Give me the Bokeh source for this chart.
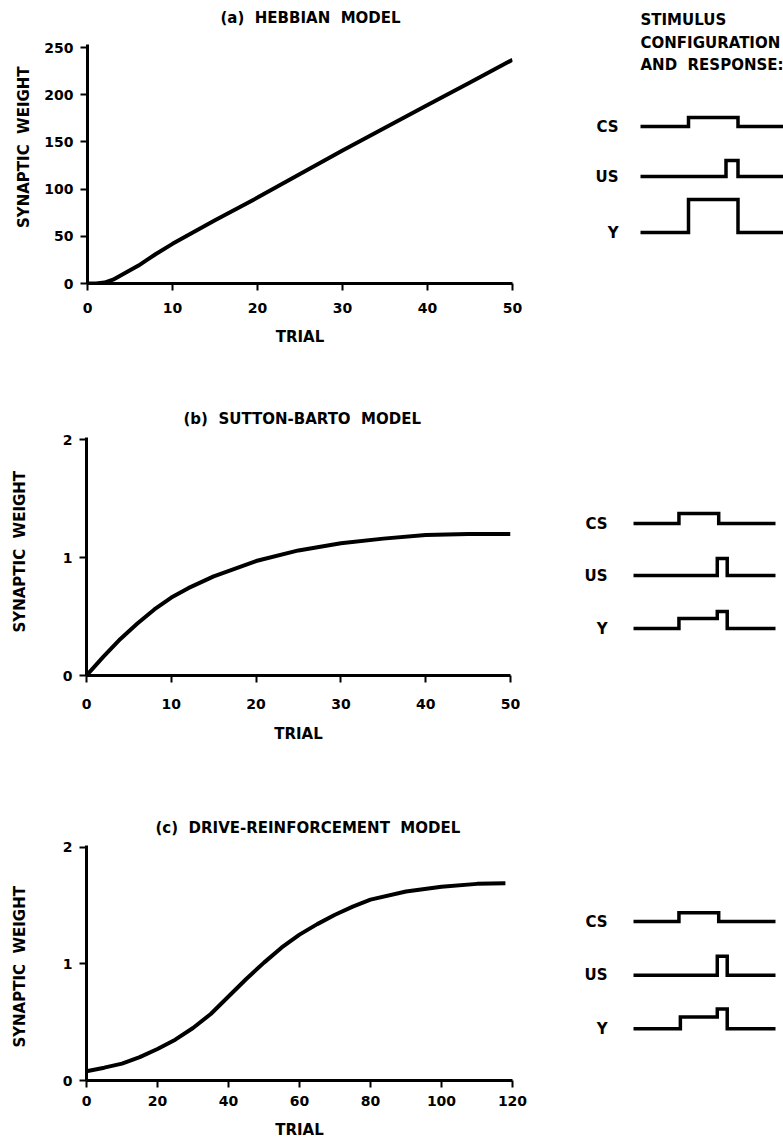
from bokeh.plotting import figure
from bokeh.layouts import column, row
from bokeh.models import Range1d, FixedTicker
from bokeh.core.properties import value
from bokeh.embed import file_html
from bokeh.resources import INLINE

FONT = "DejaVu Sans"
NB = "\u00a0"
SP = NB * 2  # wide word gap (kept in SVG)

# ---------------- data ----------------
# (a) Hebbian model
heb_trial = [0, 1, 2, 3, 4, 5, 6, 7, 8, 10, 15, 20, 25, 30, 35, 40, 45, 50]
heb_weight = [0, 0, 1, 4, 9, 14, 19, 25, 31, 42, 67, 91, 116, 141, 165, 189, 213, 237]

# (b) Sutton-Barto model
sb_trial = [0, 2, 4, 6, 8, 10, 12, 15, 20, 25, 30, 35, 40, 45, 50]
sb_weight = [0, 0.16, 0.31, 0.44, 0.56, 0.66, 0.74, 0.84, 0.97, 1.06, 1.12, 1.16, 1.19, 1.20, 1.20]

# (c) Drive-reinforcement model
dr_trial = [0, 5, 10, 15, 20, 25, 30, 35, 40, 45, 50, 55, 60, 65, 70, 75, 80, 90, 100, 110, 118]
dr_weight = [0.08, 0.11, 0.145, 0.20, 0.27, 0.35, 0.45, 0.57, 0.72, 0.87, 1.01, 1.14, 1.25,
             1.34, 1.42, 1.49, 1.55, 1.62, 1.66, 1.685, 1.69]

# tick values
ticks_x_ab = [0, 10, 20, 30, 40, 50]
ticks_x_c = [0, 20, 40, 60, 80, 100, 120]
ticks_y_a = [0, 50, 100, 150, 200, 250]
ticks_y_bc = [0, 1, 2]

titles = ["(a)" + SP + "HEBBIAN" + SP + "MODEL",
          "(b)" + SP + "SUTTON-BARTO" + SP + "MODEL",
          "(c)" + SP + "DRIVE-REINFORCEMENT" + SP + "MODEL"]
x_label = "TRIAL"
y_label = "SYNAPTIC" + SP + "WEIGHT"
stim_header = ["STIMULUS", "CONFIGURATION", "AND" + SP + "RESPONSE:"]
stim_names = ["CS", "US", "Y"]

# stimulus waveforms (time in arbitrary units 0-100, amplitude in arbitrary units)
stim_a_cs_t = [0, 32, 32, 65, 65, 100]
stim_a_cs_v = [0, 0, 0.9, 0.9, 0, 0]
stim_a_us_t = [0, 57, 57, 65, 65, 100]
stim_a_us_v = [0, 0, 1.6, 1.6, 0, 0]
stim_a_y_t = [0, 32, 32, 65, 65, 100]
stim_a_y_v = [0, 0, 3.3, 3.3, 0, 0]

stim_b_cs_t = [0, 32, 32, 60, 60, 100]
stim_b_cs_v = [0, 0, 1.0, 1.0, 0, 0]
stim_b_us_t = [0, 59, 59, 66, 66, 100]
stim_b_us_v = [0, 0, 1.7, 1.7, 0, 0]
stim_b_y_t = [0, 32, 32, 59, 59, 66, 66, 100]
stim_b_y_v = [0, 0, 1.0, 1.0, 1.7, 1.7, 0, 0]

stim_c_cs_t = [0, 32, 32, 60, 60, 100]
stim_c_cs_v = [0, 0, 0.9, 0.9, 0, 0]
stim_c_us_t = [0, 59, 59, 66, 66, 100]
stim_c_us_v = [0, 0, 1.9, 1.9, 0, 0]
stim_c_y_t = [0, 33, 33, 59, 59, 66, 66, 100]
stim_c_y_v = [0, 0, 1.2, 1.2, 2.0, 2.0, 0, 0]


# ---------------- helpers ----------------
def main_fig(h, left, frame_w, bottom, xr, ymax, yt, ppu, title, title_x_px, title_y_px,
             xt, xt_stand, xl_stand, yl_pad, yl_stand):
    """Frame spans from the top of the figure down to (h - bottom)."""
    frame_h = h - bottom
    y_end = frame_h / ppu
    p = figure(width=540, height=h, x_range=Range1d(*xr), y_range=Range1d(0, y_end),
               output_backend="svg", toolbar_location=None,
               min_border_left=left, min_border_right=540 - left - frame_w,
               min_border_top=0, min_border_bottom=bottom)
    p.xaxis.ticker = FixedTicker(ticks=xt)
    p.yaxis.ticker = FixedTicker(ticks=yt)
    p.yaxis.bounds = (0, ymax)
    p.xaxis.axis_label = x_label
    # trailing no-break spaces move the centred label down along the axis
    p.yaxis.axis_label = y_label + NB * yl_pad
    for ax in (p.xaxis[0], p.yaxis[0]):
        ax.axis_line_width = 3
        ax.axis_line_color = "black"
        ax.major_tick_line_width = 2
        ax.major_tick_line_color = "black"
        ax.major_tick_out = 7
        ax.major_tick_in = 0
        ax.minor_tick_line_color = None
        ax.major_label_text_font = FONT
        ax.major_label_text_font_size = "14px"
        ax.major_label_text_font_style = "bold"
        ax.major_label_text_color = "black"
        ax.major_label_standoff = 7
        ax.axis_label_text_font = FONT
        ax.axis_label_text_font_size = "15px"
        ax.axis_label_text_font_style = "bold"
        ax.axis_label_text_color = "black"
    p.xaxis[0].major_label_standoff = xt_stand
    p.xaxis[0].axis_label_standoff = xl_stand
    p.yaxis[0].axis_label_standoff = yl_stand
    p.xgrid.visible = False
    p.ygrid.visible = False
    p.outline_line_color = None
    # panel title as real text inside the (tall) frame
    xpu = frame_w / (xr[1] - xr[0])
    p.text(x=[xr[0] + (title_x_px - left) / xpu], y=[(frame_h - title_y_px) / ppu],
           text=[title], text_align="left", text_baseline="middle",
           text_font=value(FONT), text_font_size="15px", text_font_style="bold",
           text_color="black")
    return p


def stim_fig(h, bottom, x0, scale, traces, bases, label_dx, header=False):
    W = 243
    s = figure(width=W, height=h, x_range=Range1d(-x0 / scale, (W - x0) / scale),
               y_range=Range1d(-(h - bottom) / 10, 0), output_backend="svg",
               toolbar_location=None, min_border_left=0, min_border_right=0,
               min_border_top=0, min_border_bottom=bottom,
               x_axis_location=None, y_axis_location=None)
    s.grid.visible = False
    s.outline_line_color = None
    for (t, v), b in zip(traces, bases):
        s.line(t, [-b / 10 + vv for vv in v], line_width=3.5, color="black",
               line_join="miter")
    s.text(x=[label_dx / scale] * 3, y=[-b / 10 for b in bases], text=stim_names,
           text_align="right", text_baseline="middle", text_font=value(FONT),
           text_font_size="15px", text_font_style="bold", text_color="black")
    if header:
        s.text(x=[0, 0, 0], y=[-1.9, -4.2, -6.4], text=stim_header,
               text_align="left", text_baseline="middle", text_font=value(FONT),
               text_font_size="15px", text_font_style="bold", text_color="black")
    return s


# ---------------- panels ----------------
pa = main_fig(370, 87, 425, 87, (0, 50), 253, ticks_y_a, 0.944, titles[0], 220, 17,
              ticks_x_ab, 12, 12, 2, 8)
pa.line(heb_trial, heb_weight, line_width=4, color="black")

pb = main_fig(420, 86, 424, 115, (0, 50), 2.017, ticks_y_bc, 118, titles[1], 183, 48,
              ticks_x_ab, 16, 13, 11, 31)
pb.line(sb_trial, sb_weight, line_width=4, color="black")

pc = main_fig(351, 86, 426, 59, (0, 120), 2.017, ticks_y_bc, 117.5, titles[2], 155, 38,
              ticks_x_c, 8, 12, 12, 31)
pc.line(dr_trial, dr_weight, line_width=4, color="black")

sa = stim_fig(370, 87, 100, 1.5,
              [(stim_a_cs_t, stim_a_cs_v), (stim_a_us_t, stim_a_us_v), (stim_a_y_t, stim_a_y_v)],
              [126, 176, 232], -22, header=True)
sb = stim_fig(420, 115, 93, 1.42,
              [(stim_b_cs_t, stim_b_cs_v), (stim_b_us_t, stim_b_us_v), (stim_b_y_t, stim_b_y_v)],
              [153, 205, 258], -26)
sc = stim_fig(351, 59, 93, 1.42,
              [(stim_c_cs_t, stim_c_cs_v), (stim_c_us_t, stim_c_us_v), (stim_c_y_t, stim_c_y_v)],
              [132, 186, 240], -26)

layout = column(row(pa, sa), row(pb, sb), row(pc, sc))

open("out.html", "w").write(file_html(layout, INLINE))
